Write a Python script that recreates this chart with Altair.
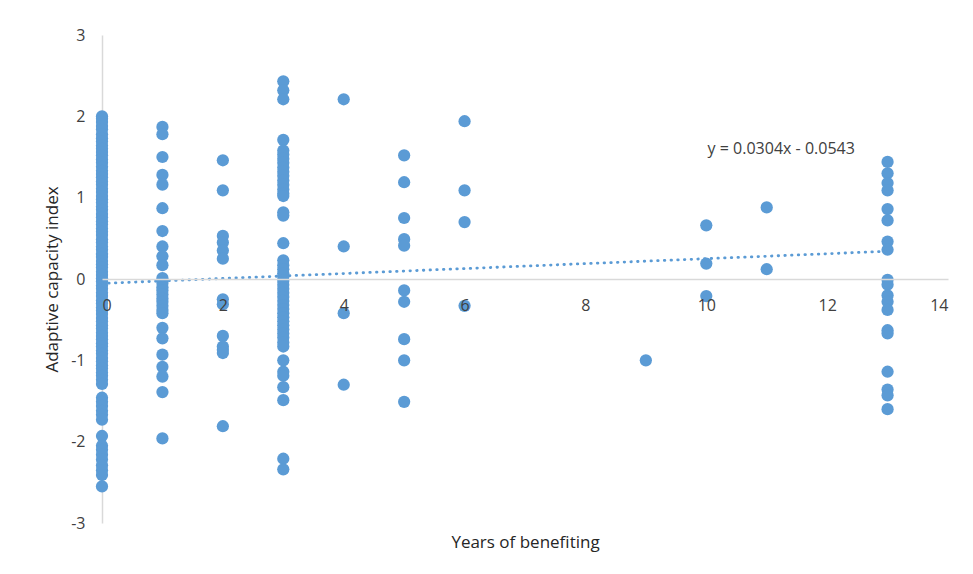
import altair as alt
import pandas as pd

# Years of benefiting (x) and Adaptive capacity index (y) per column
col_0 = [2.00, 1.97, 1.93, 1.88, 1.84, 1.78, 1.73, 1.69, 1.64, 1.60, 1.56, 1.52, 1.47, 1.43,
         1.38, 1.33, 1.29, 1.25, 1.20, 1.16, 1.11, 1.07, 1.02, 0.98, 0.94, 0.89, 0.85, 0.80,
         0.76, 0.71, 0.67, 0.62, 0.58, 0.54, 0.49, 0.45, 0.40, 0.36, 0.31, 0.27, 0.22, 0.18,
         0.14, 0.09, 0.05, 0.01, -0.03, -0.08, -0.12, -0.17, -0.21, -0.26, -0.30, -0.35,
         -0.39, -0.43, -0.48, -0.52, -0.57, -0.61, -0.66, -0.70, -0.74, -0.79, -0.83, -0.88,
         -0.92, -0.97, -1.01, -1.06, -1.10, -1.15, -1.19, -1.24, -1.29, -1.46, -1.51, -1.56,
         -1.62, -1.67, -1.73, -1.93, -2.05, -2.10, -2.16, -2.22, -2.29, -2.35, -2.41, -2.55]
col_1 = [1.87, 1.78, 1.50, 1.28, 1.16, 0.87, 0.59, 0.40, 0.28, 0.17, 0.01, -0.05, -0.10,
         -0.14, -0.19, -0.24, -0.28, -0.33, -0.38, -0.42, -0.60, -0.73, -0.93, -1.08, -1.20,
         -1.39, -1.96]
col_2 = [1.46, 1.09, 0.53, 0.45, 0.35, 0.25, -0.25, -0.31, -0.70, -0.83, -0.87, -0.91, -1.81]
col_3 = [2.43, 2.32, 2.21, 1.71, 1.58, 1.53, 1.48, 1.43, 1.37, 1.32, 1.27, 1.21, 1.16, 1.10,
         1.05, 1.02, 0.82, 0.78, 0.44, 0.23, 0.17, 0.12, 0.07, 0.03, -0.02, -0.07, -0.12,
         -0.17, -0.22, -0.27, -0.32, -0.37, -0.42, -0.47, -0.52, -0.57, -0.62, -0.67, -0.72,
         -0.78, -0.83, -1.00, -1.14, -1.19, -1.33, -1.49, -2.21, -2.34]
col_4 = [2.21, 0.40, -0.42, -1.30]
col_5 = [1.52, 1.19, 0.75, 0.49, 0.41, -0.14, -0.28, -0.74, -1.00, -1.51]
col_6 = [1.94, 1.09, 0.70, -0.33]
col_9 = [-1.00]
col_10 = [0.66, 0.19, -0.21]
col_11 = [0.88, 0.12]
col_13 = [1.44, 1.30, 1.18, 1.09, 0.86, 0.72, 0.46, 0.36, -0.01, -0.07, -0.20, -0.28, -0.38,
          -0.63, -0.67, -1.14, -1.36, -1.43, -1.60]

columns = {0: col_0, 1: col_1, 2: col_2, 3: col_3, 4: col_4, 5: col_5, 6: col_6,
           9: col_9, 10: col_10, 11: col_11, 13: col_13}

# Linear trendline from the label
slope = 0.0304
intercept = -0.0543
trend_x = [0, 13]
equation = "y = 0.0304x - 0.0543"
label_pos = (11.24, 1.6)

x_ticks = [0, 2, 4, 6, 8, 10, 12, 14]
y_ticks = [-3, -2, -1, 0, 1, 2, 3]

rows = [{"x": k, "y": v} for k, vals in columns.items() for v in vals]
df = pd.DataFrame(rows)
trend = pd.DataFrame({"x": trend_x, "y": [slope * t + intercept for t in trend_x]})
lab = pd.DataFrame({"x": [label_pos[0]], "y": [label_pos[1]], "t": [equation]})

W, H = 846, 488
FONT = "Open Sans"
BLUE = "#5B9BD5"
HYPHEN = "datum.value < 0 ? '-' + abs(datum.value) : '' + datum.value"

xs = alt.Scale(domain=[0, 14], nice=False, zero=False)
ys = alt.Scale(domain=[-3, 3], nice=False)

xaxis = alt.Axis(values=x_ticks, format="d", offset=-H / 2, grid=False, ticks=False,
                 domainColor="#d9d9d9", domainWidth=1.5, labelFontSize=16,
                 labelColor="#404040", labelPadding=18, labelFont=FONT, zindex=1,
                 title="Years of benefiting", titleFont=FONT, titleFontSize=17,
                 titleFontWeight="normal", titleColor="#262626", titleY=263,
                 titleBaseline="middle")
yaxis = alt.Axis(values=y_ticks, labelExpr=HYPHEN, grid=False, ticks=False,
                 domainColor="#d9d9d9", domainWidth=1.5, labelFontSize=16,
                 labelColor="#404040", labelPadding=17, labelFont=FONT,
                 title="Adaptive capacity index", titleFont=FONT,
                 titleFontSize=17, titleFontWeight="normal", titleColor="#262626",
                 titleX=-50, titleY=H / 2, titleAngle=270, titleAlign="center",
                 titleBaseline="middle")

points = alt.Chart(df).mark_circle(size=150, color=BLUE, opacity=1).encode(
    x=alt.X("x:Q", scale=xs, axis=xaxis),
    y=alt.Y("y:Q", scale=ys, axis=yaxis),
)

line = alt.Chart(trend).mark_line(color=BLUE, strokeWidth=2.8, strokeDash=[0.5, 6.2],
                                  strokeCap="round").encode(
    x=alt.X("x:Q", scale=xs), y=alt.Y("y:Q", scale=ys))

text = alt.Chart(lab).mark_text(font=FONT, fontSize=16, color="#404040").encode(
    x=alt.X("x:Q", scale=xs), y=alt.Y("y:Q", scale=ys), text="t:N")

chart = alt.layer(points, line, text).properties(
    width=W, height=H,
    autosize=alt.AutoSizeParams(type="none"),
    padding={"left": 94, "top": 27, "right": 17, "bottom": 43},
).configure_view(stroke=None)

chart.save("out.html", embed_options={"renderer": "svg", "actions": False})
